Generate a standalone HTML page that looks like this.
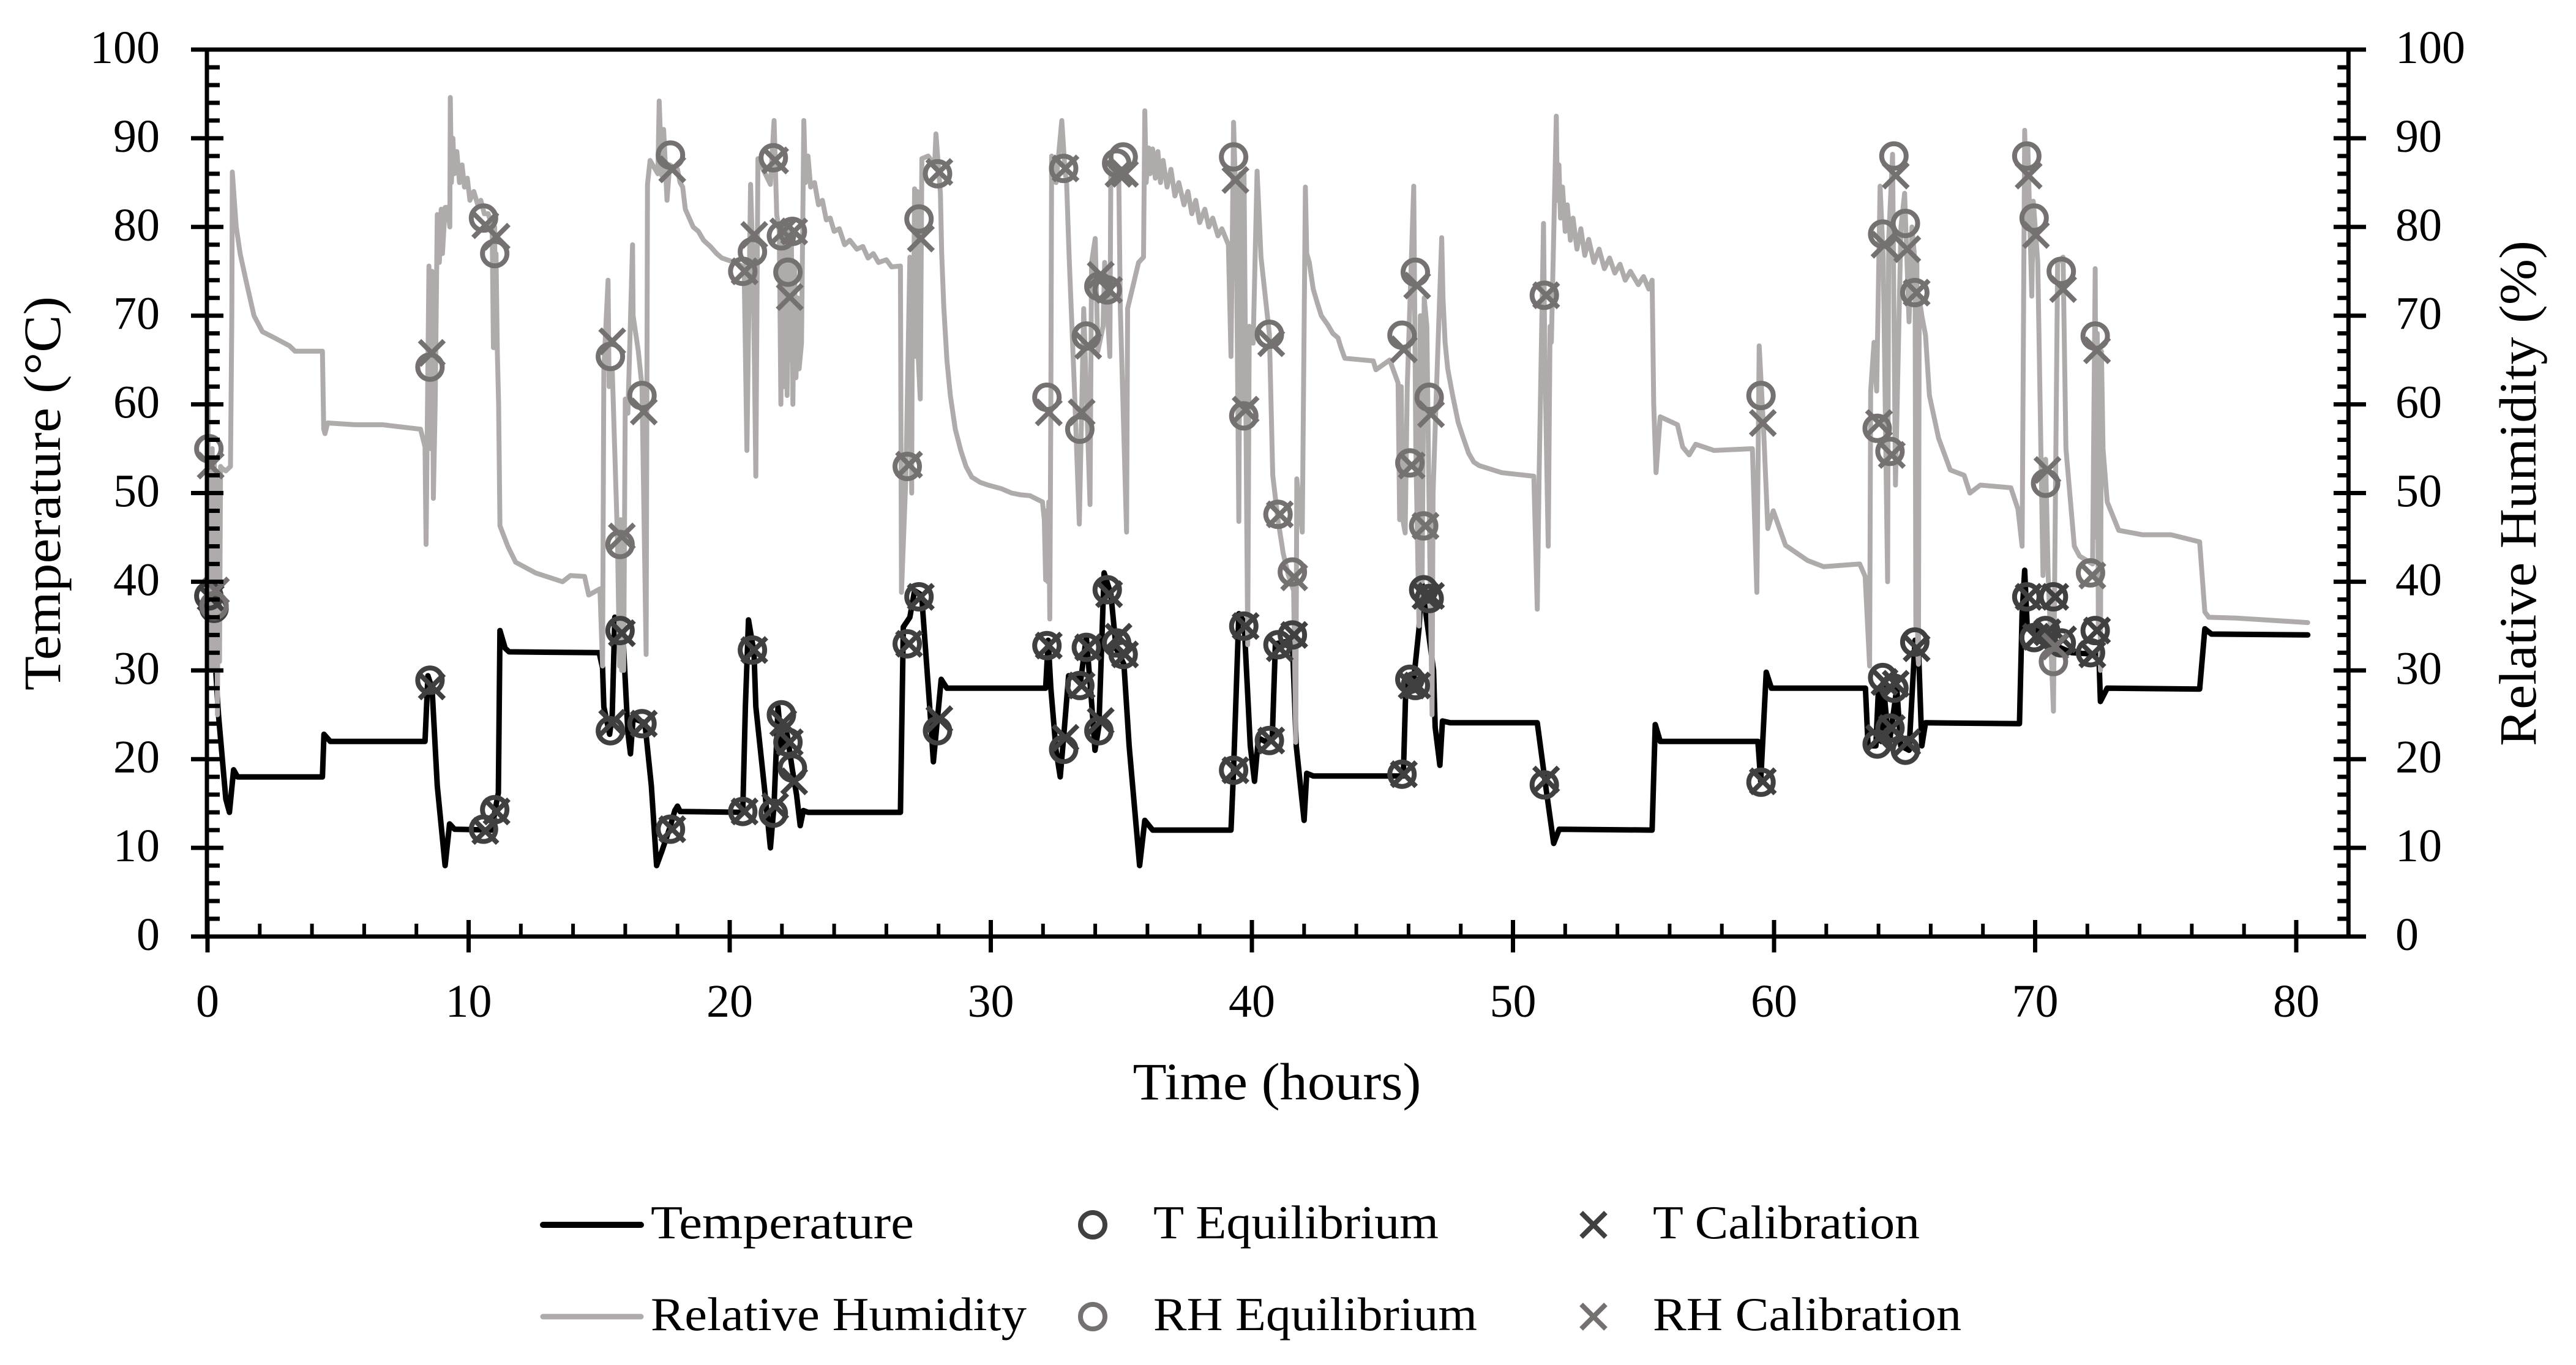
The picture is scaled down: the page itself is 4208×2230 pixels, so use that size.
<!DOCTYPE html>
<html>
<head>
<meta charset="utf-8">
<title>Temperature and relative humidity over time</title>
<style>
html,body{margin:0;padding:0;background:#fff;width:4208px;height:2230px;overflow:hidden}
svg{display:block;font-family:"Liberation Serif",serif;fill:#000}
</style>
</head>
<body>
<svg id="chart" xmlns="http://www.w3.org/2000/svg" width="4208" height="2230" viewBox="0 0 4208 2230">
  <rect x="0" y="0" width="4208" height="2230" fill="#ffffff"/>
  <g id="series-layer"></g>
  <g id="axis-layer"></g>
  <text transform="translate(98,806) rotate(-90)" text-anchor="middle" font-size="86" textLength="644" lengthAdjust="spacingAndGlyphs">Temperature (°C)</text>
  <text transform="translate(4142,806) rotate(-90)" text-anchor="middle" font-size="86" textLength="826" lengthAdjust="spacingAndGlyphs">Relative Humidity (%)</text>
  <text x="2086" y="1796" text-anchor="middle" font-size="86" textLength="471" lengthAdjust="spacingAndGlyphs">Time (hours)</text>
  <g>
    <g>
      <line x1="887" x2="1047" y1="2001" y2="2001" stroke="#000000" stroke-width="10" stroke-linecap="round"/>
      <text x="1063" y="2023" font-size="77" textLength="430" lengthAdjust="spacingAndGlyphs">Temperature</text>
    </g>
    <g>
      <line x1="887" x2="1047" y1="2151" y2="2151" stroke="#AFABAB" stroke-width="9" stroke-linecap="round"/>
      <text x="1063" y="2173" font-size="77" textLength="614" lengthAdjust="spacingAndGlyphs">Relative Humidity</text>
    </g>
    <g>
      <circle cx="1785" cy="2001" r="20" fill="none" stroke="#404040" stroke-width="8"/>
      <text x="1884" y="2023" font-size="77" textLength="466" lengthAdjust="spacingAndGlyphs">T Equilibrium</text>
    </g>
    <g>
      <circle cx="1785" cy="2151" r="20" fill="none" stroke="#767171" stroke-width="8"/>
      <text x="1884" y="2173" font-size="77" textLength="529" lengthAdjust="spacingAndGlyphs">RH Equilibrium</text>
    </g>
    <g>
      <path d="M2583 1981L2623 2021M2583 2021L2623 1981" fill="none" stroke="#404040" stroke-width="8"/>
      <text x="2700" y="2023" font-size="77" textLength="436" lengthAdjust="spacingAndGlyphs">T Calibration</text>
    </g>
    <g>
      <path d="M2583 2131L2623 2171M2583 2171L2623 2131" fill="none" stroke="#767171" stroke-width="8"/>
      <text x="2700" y="2173" font-size="77" textLength="504" lengthAdjust="spacingAndGlyphs">RH Calibration</text>
    </g>
  </g>
</svg>
<script>
const xTickLabels = [0,10,20,30,40,50,60,70,80];
const xMinorTicks = [2,4,6,8,12,14,16,18,22,24,26,28,32,34,36,38,42,44,46,48,52,54,56,58,62,64,66,68,72,74,76,78,82];
const yTickLabels = [0,10,20,30,40,50,60,70,80,90,100];
const yMinorTicks = [2,4,6,8,12,14,16,18,22,24,26,28,32,34,36,38,42,44,46,48,52,54,56,58,62,64,66,68,72,74,76,78,82,84,86,88,92,94,96,98];

const temperatureSeries = [[0,38.5],[0.1,38],[0.25,33],[0.42,25],[0.7,15.5],[0.84,14],[1.0,18.8],[1.15,18],[4.4,18],[4.46,22.8],[4.7,22],[8.33,22],[8.44,29.4],[8.6,28],[8.8,17],[9.1,8],[9.27,12.7],[9.46,12.1],[10.9,12],[11,14],[11.14,16.2],[11.2,34.5],[11.4,32.5],[11.55,32.1],[15,32],[15.13,30.3],[15.18,25.9],[15.4,22.8],[15.5,25],[15.6,36],[15.9,34.7],[16.1,23],[16.2,20.6],[16.3,24.6],[16.75,24.1],[17,17],[17.2,8],[17.4,9.6],[17.7,12.2],[17.9,14.2],[18,14.7],[18.1,14.1],[20.5,14],[20.6,25.9],[20.72,35.7],[20.93,32],[21,25.9],[21.35,16.2],[21.56,10],[21.7,14.9],[21.85,25.9],[22,21],[22.2,22.8],[22.4,18.8],[22.56,16],[22.7,12.5],[22.82,14.2],[23,14],[26.54,14],[26.65,34.9],[26.9,36],[27.08,39],[27.35,38.5],[27.66,25.9],[27.8,19.7],[28.1,29],[28.32,28],[32.1,28],[32.2,33.4],[32.3,28],[32.5,21],[32.66,18],[32.8,22.8],[32.98,29.4],[33.45,29],[33.66,33.8],[33.87,26],[33.99,21],[34.14,23.7],[34.34,41],[34.6,38.6],[34.8,32.5],[35.1,30.7],[35.3,21.5],[35.7,8],[35.9,13.1],[36.2,12],[39.2,12],[39.3,18.8],[39.5,36.4],[39.7,35.5],[39.94,21.5],[40.1,17.5],[40.25,22.4],[40.5,22],[40.78,22.4],[40.9,33],[41.55,33.4],[41.7,21.5],[42,13.1],[42.1,18.4],[42.35,18.1],[45.8,18.1],[45.9,28.5],[46.2,29],[46.4,34.7],[46.5,40],[46.96,30],[47.02,23.6],[47.2,19.3],[47.3,24.3],[47.6,24.1],[50.93,24.1],[51.29,16.2],[51.56,10.5],[51.77,12.1],[55.33,12],[55.45,23.9],[55.64,22],[59.38,22],[59.49,17.5],[59.7,29.8],[59.9,28],[63.5,28],[63.6,21.5],[63.9,21.5],[64,28],[64.1,22],[64.2,28],[64.4,21.5],[64.7,28],[64.85,21.5],[65.17,21],[65.4,33.4],[65.53,32.5],[65.66,21.5],[65.8,24.1],[69.4,24],[69.5,36.4],[69.6,41.3],[69.7,34.7],[70.03,34.7],[70.33,33.4],[71.4,32],[72.44,31.8],[72.5,26.5],[72.76,28],[76.3,27.9],[76.5,34.7],[76.75,34.1],[80.44,34]];

const humiditySeries = [[0,38],[0.02,61.5],[0.04,30],[0.1,54],[0.14,30],[0.18,55],[0.22,30],[0.26,54],[0.3,30],[0.34,52],[0.38,25],[0.42,50],[0.46,31],[0.5,53],[0.55,52.8],[0.7,52.5],[0.88,53],[0.93,70],[0.95,86.2],[1.05,82],[1.1,80],[1.25,77],[1.47,74],[1.78,70],[2.1,68.2],[2.5,67.6],[3.14,66.6],[3.35,66],[4.4,66],[4.45,57.2],[4.5,56.7],[4.6,57.9],[5.65,57.7],[6.7,57.7],[8.16,57.2],[8.33,55.2],[8.37,44.2],[8.48,75.6],[8.55,55],[8.6,75],[8.65,49.4],[8.72,60],[8.8,81.4],[8.88,76],[8.95,82],[9.0,77],[9.1,82.2],[9.2,82.2],[9.28,80],[9.3,94.6],[9.34,85],[9.4,90],[9.45,86],[9.55,88.5],[9.65,85],[9.75,87],[9.84,84.5],[9.95,85.5],[10.05,83],[10.2,84],[10.35,82.5],[10.47,83],[10.6,81.5],[10.75,81.5],[10.9,80],[10.95,66.4],[11,80],[11.02,66.4],[11.05,77],[11.1,66],[11.15,60],[11.2,46.3],[11.5,44],[11.8,42.2],[12.56,41],[13.6,40],[13.9,40.7],[14.44,40.6],[14.6,38.5],[15.03,39.2],[15.13,30.5],[15.18,64],[15.34,74],[15.38,62],[15.5,64],[15.7,45],[15.78,30.5],[15.82,47],[15.86,30],[15.9,46],[15.94,30],[16,60.6],[16.1,59],[16.28,78],[16.3,70],[16.5,66],[16.64,62],[16.8,31.8],[16.85,84.8],[16.95,87.5],[17.25,86],[17.3,94.2],[17.4,85.8],[17.47,91],[17.6,83],[17.7,87],[18,86.5],[18.1,85],[18.2,84.5],[18.3,82],[18.45,81],[18.6,80],[18.8,79.5],[19,78.5],[19.26,77.8],[19.5,77],[19.7,76.5],[20.2,76],[20.55,75.5],[20.66,54.8],[20.8,84.8],[20.9,75],[21,51.9],[21.08,87.7],[21.56,84.8],[21.7,92],[21.8,81.4],[21.9,79.5],[21.96,60],[22.02,79],[22.08,62],[22.14,80],[22.2,61],[22.26,80],[22.32,65],[22.36,79],[22.42,60],[22.48,76],[22.54,63],[22.6,72],[22.66,64],[22.75,66.9],[22.84,92],[22.9,85],[23,88],[23.1,84.5],[23.25,85],[23.4,82.5],[23.55,83],[23.7,80.8],[23.85,81],[24,79.5],[24.2,79.8],[24.4,78],[24.6,78.5],[24.87,77.5],[25.1,77.8],[25.3,76.5],[25.5,77],[25.7,76],[26,76.3],[26.2,75.5],[26.54,75.6],[26.58,38.8],[26.75,52],[26.9,76.6],[26.97,50],[27.0,76],[27.03,65.4],[27.08,84.3],[27.13,65.4],[27.18,84],[27.22,65.4],[27.3,60.6],[27.36,87.7],[27.6,88],[27.85,87],[27.9,90.5],[28.07,83.8],[28.12,77],[28.2,71],[28.32,65],[28.45,61],[28.64,57.2],[28.85,54.8],[29.05,53],[29.27,51.8],[29.6,51.2],[29.9,50.9],[30.4,50.5],[30.8,50],[31.15,49.8],[31.5,49.7],[31.98,49],[32.05,47],[32.1,40.2],[32.14,48],[32.18,40],[32.22,49],[32.26,35.8],[32.3,60],[32.33,88],[32.5,85],[32.72,92],[32.85,86],[32.9,85.3],[33,76.6],[33.2,62],[33.39,46.5],[33.56,70.8],[33.8,48.7],[33.86,76],[34,78.7],[34.1,66],[34.3,68.8],[34.36,76],[34.56,65.4],[34.6,87.7],[34.9,86.2],[34.96,71],[35.2,45.6],[35.24,70.8],[35.66,76],[35.85,76.6],[35.9,93.1],[35.95,85],[36.05,88.9],[36.1,86],[36.2,88.8],[36.3,85.5],[36.4,88.5],[36.5,85],[36.6,87.5],[36.75,84.5],[36.9,86.5],[37.05,83.5],[37.2,85],[37.4,82.5],[37.55,84],[37.7,81.5],[37.85,83],[38,80.5],[38.2,82],[38.35,80],[38.5,81],[38.7,79],[38.85,79.8],[39.1,78],[39.2,65.4],[39.3,91.8],[39.4,81.4],[39.5,46.8],[39.56,86],[39.62,60],[39.7,86],[39.84,32.9],[39.9,68.8],[40.05,66.9],[40.2,86.3],[40.35,76.6],[40.67,67.9],[40.8,52],[41,47],[41.2,43.2],[41.4,40.7],[41.6,39],[41.68,21.9],[41.72,51.6],[41.93,45.6],[42.05,84.5],[42.1,77],[42.2,76],[42.35,73],[42.5,71.5],[42.66,70],[42.9,69],[43.1,68],[43.3,67.5],[43.4,66.5],[43.56,65.2],[44.65,64.9],[44.75,63.9],[45.28,65],[45.6,62.4],[45.66,47],[45.72,62],[45.78,47],[45.87,45.5],[45.95,62],[46.2,84.6],[46.28,55],[46.4,35],[46.45,70],[46.52,40],[46.6,72],[46.7,68.8],[46.78,50],[46.9,25],[46.94,50],[47.05,60],[47.27,78.8],[47.32,72],[47.4,67],[47.5,64],[47.69,61],[47.9,58],[48.1,56.2],[48.3,54.5],[48.5,53.5],[48.7,53.1],[49.57,52.3],[50.8,51.9],[50.93,36.9],[51,52],[51.17,80.4],[51.22,65.4],[51.35,44],[51.42,68.8],[51.47,67],[51.66,92.5],[51.7,83],[51.76,87],[51.82,81],[51.9,84.5],[52,79.5],[52.08,82.5],[52.2,78.5],[52.3,81],[52.45,77.5],[52.6,79.8],[52.75,76.8],[52.9,78.6],[53.1,76],[53.3,77.5],[53.5,75.3],[53.7,76.5],[53.9,74.8],[54.1,75.8],[54.3,74],[54.5,75],[54.8,73.5],[55,74.4],[55.2,73],[55.33,74],[55.39,60],[55.48,52.3],[55.64,58.6],[56.3,57.7],[56.5,55.2],[56.75,54.3],[57,55.5],[57.7,54.8],[59.17,55],[59.34,38.8],[59.43,66.6],[59.6,57.2],[59.76,46],[59.97,48],[60.44,44.1],[61.28,42.4],[61.9,41.7],[63.28,42],[63.49,40.6],[63.66,30.5],[63.7,61.5],[63.83,67],[63.93,61.5],[64.06,84.6],[64.18,76.6],[64.35,40],[64.39,78.6],[64.54,88.2],[64.65,50.9],[64.86,80],[65,83.8],[65.17,69.3],[65.28,80],[65.4,76],[65.43,35],[65.47,76],[65.5,32],[65.53,30.7],[65.56,72],[65.66,70],[65.8,67.8],[65.95,61],[66.3,56.2],[66.75,52.6],[67.28,52],[67.5,50],[67.9,50.9],[69.07,50.6],[69.34,48.2],[69.5,44],[69.6,90.9],[69.68,80],[69.72,89],[69.87,72.2],[69.93,82.9],[70.1,76],[70.3,40.7],[70.4,53.8],[70.5,40.7],[70.7,25.4],[70.86,76],[71.07,76.6],[71.18,55],[71.5,44],[71.7,42.9],[72.2,42],[72.3,75.3],[72.34,45],[72.38,68],[72.42,35],[72.46,66],[72.5,30],[72.54,66],[72.6,55],[72.76,49],[73.2,45.8],[74.1,45.3],[75.2,45.3],[76.3,44.5],[76.5,36.6],[76.65,36],[77.7,35.9],[80.44,35.4]];

const markerHours = [0.05,0.25,8.52,10.57,11,15.43,15.8,16.64,17.73,20.5,20.87,21.67,21.98,22.23,22.4,26.8,27.25,27.96,32.15,32.79,33.41,33.66,34.14,34.46,34.82,35.07,39.3,39.69,40.67,41,41.55,45.75,46.05,46.26,46.58,46.79,51.2,59.5,63.95,64.16,64.44,64.59,65.03,65.39,69.68,69.96,70.4,70.7,71,72.12,72.3];
const tEquilibrium = [38.4,37,28.9,12.1,14.3,23.2,34.5,24,12.1,14.1,32.3,13.9,25,21.9,19,33,38.3,23.2,32.8,21.1,28.3,32.6,23.2,39.1,33.1,31.8,18.75,35,22.1,32.9,34,18.3,29,28.3,39.1,38.1,17.1,17.4,21.7,29.2,23.5,28,21,33.2,38.3,33.7,34.5,38.3,33.1,32,34.5];
const tCalibration = [38.2,39,28.2,11.9,14.1,24.1,34.2,24,12.1,14.1,32.3,14.7,24.1,21.9,17.5,33,38.3,24.5,32.8,22.4,28.3,32.6,24.3,38.6,33.8,31.8,18.75,35,22.1,32.5,34,18.3,28.3,28.3,38.4,38.4,17.7,17.5,22.4,28.7,23.5,28.5,21.9,32.5,38.3,33.8,34.3,38.3,33.5,31.8,34.5];
const rhEquilibrium = [55,37.3,64.2,81,77,65.4,44.2,61,88.1,75,77.2,87.8,79,74.9,79.5,53,80.9,86,60.8,86.6,57.2,67.7,73.3,72.9,87.2,87.9,87.9,58.7,67.9,47.6,41.1,67.8,53.4,74.9,46.3,60.8,72.3,61,57.3,79.2,54.7,88,80.4,72.6,88,81,51.1,31,75,41,67.7];
const rhCalibration = [53.1,39,65.8,80.2,78.9,67.1,45.1,59.2,86.5,75,79.1,87.5,79.5,72.1,79.5,53.2,78.7,86.2,59.1,86.6,59.1,66.6,74.6,72.9,86,86,85.3,59.4,66.9,47.6,40.5,66.2,53.1,73.4,46.3,58.9,72.3,57.9,57.9,78,54.3,85.8,77.5,72.6,85.8,79.1,52.6,32.7,73,40.7,66.1];

const X0 = 339, PX_PER_HOUR = 42.65, Y0 = 1530, PX_PER_UNIT = 14.49, XMAX = 82;
const SVGNS = 'http://www.w3.org/2000/svg';
const xAxis = function (h) { return X0 + h * PX_PER_HOUR; };
const yAxis = function (v) { return Y0 - v * PX_PER_UNIT; };
const seriesLayer = document.getElementById('series-layer');
const axisLayer = document.getElementById('axis-layer');
const XRIGHT = xAxis(XMAX), YTOP = yAxis(100);

function make(tag, parent, attrs) {
  const el = document.createElementNS(SVGNS, tag);
  Object.keys(attrs).forEach(function (k) { el.setAttribute(k, attrs[k]); });
  parent.appendChild(el);
  return el;
}
function linePath(series) {
  return series.map(function (p, i) {
    return (i ? 'L' : 'M') + xAxis(p[0]).toFixed(1) + ' ' + yAxis(p[1]).toFixed(1);
  }).join('');
}

// Axes
function axisStroke(x1, y1, x2, y2, w) {
  return make('line', axisLayer, { x1: x1, y1: y1, x2: x2, y2: y2, stroke: '#000', 'stroke-width': w });
}
let axisEl;
axisEl = axisStroke(312, Y0, 3865, Y0, 7);


axisEl = axisStroke(312, YTOP, 3865, YTOP, 7);


axisEl = axisStroke(X0 - 1, YTOP, X0 - 1, Y0, 7);


axisEl = axisStroke(XRIGHT, YTOP, XRIGHT, Y0, 7);



xMinorTicks.forEach(function (h) {
  const t = axisStroke(xAxis(h), Y0 - 21, xAxis(h), Y0, 6);
  
  
});
yMinorTicks.forEach(function (v) {
  const a = axisStroke(X0, yAxis(v), X0 + 20, yAxis(v), 7);
  
  
  const b = axisStroke(XRIGHT - 18, yAxis(v), XRIGHT, yAxis(v), 7);
  
  
});
xTickLabels.forEach(function (h) {
  const t = axisStroke(xAxis(h), Y0 - 27, xAxis(h), Y0 + 26, 7);
  
  
  const label = make('text', axisLayer, { x: xAxis(h), y: 1661, 'text-anchor': 'middle', 'font-size': 76 });
  label.textContent = String(h);
  
  
});
yTickLabels.forEach(function (v) {
  if (v > 0 && v < 100) {
    const a = axisStroke(312, yAxis(v), 365, yAxis(v), 7);
    
    
    const b = axisStroke(3812, yAxis(v), 3865, yAxis(v), 7);
    
    
  }
  const leftLabel = make('text', axisLayer, { x: 261, y: yAxis(v) + 22, 'text-anchor': 'end', 'font-size': 76 });
  leftLabel.textContent = String(v);
  
  
  const rightLabel = make('text', axisLayer, { x: 3913, y: yAxis(v) + 22, 'font-size': 76 });
  rightLabel.textContent = String(v);
  
  
});

// Lines
const tempLine = make('path', seriesLayer, { d: linePath(temperatureSeries), fill: 'none', stroke: '#000000', 'stroke-width': 9, 'stroke-linejoin': 'round', 'stroke-linecap': 'round' });


const rhLine = make('path', seriesLayer, { d: linePath(humiditySeries), fill: 'none', stroke: '#AFABAB', 'stroke-width': 8, 'stroke-linejoin': 'round', 'stroke-linecap': 'round' });



// Markers
function drawCircles(values, color, name) {
  const group = make('g', seriesLayer, {});
  
  
  values.forEach(function (v, i) {
    const c = make('circle', group, { cx: xAxis(markerHours[i]), cy: yAxis(v), r: 20, fill: 'none', stroke: color, 'stroke-width': 8 });
    
    
  });
}
function drawCrosses(values, color, name) {
  const group = make('g', seriesLayer, {});
  
  
  values.forEach(function (v, i) {
    const x = xAxis(markerHours[i]) + 3, y = yAxis(v), s = 20;
    const p = make('path', group, { d: 'M' + (x - s) + ' ' + (y - s) + 'L' + (x + s) + ' ' + (y + s) + 'M' + (x - s) + ' ' + (y + s) + 'L' + (x + s) + ' ' + (y - s), fill: 'none', stroke: color, 'stroke-width': 8 });
    
    
  });
}
drawCircles(tEquilibrium, '#404040', 't-equilibrium');
drawCrosses(tCalibration, '#404040', 't-calibration');
drawCircles(rhEquilibrium, '#767171', 'rh-equilibrium');
drawCrosses(rhCalibration, '#767171', 'rh-calibration');
</script>
</body>
</html>
